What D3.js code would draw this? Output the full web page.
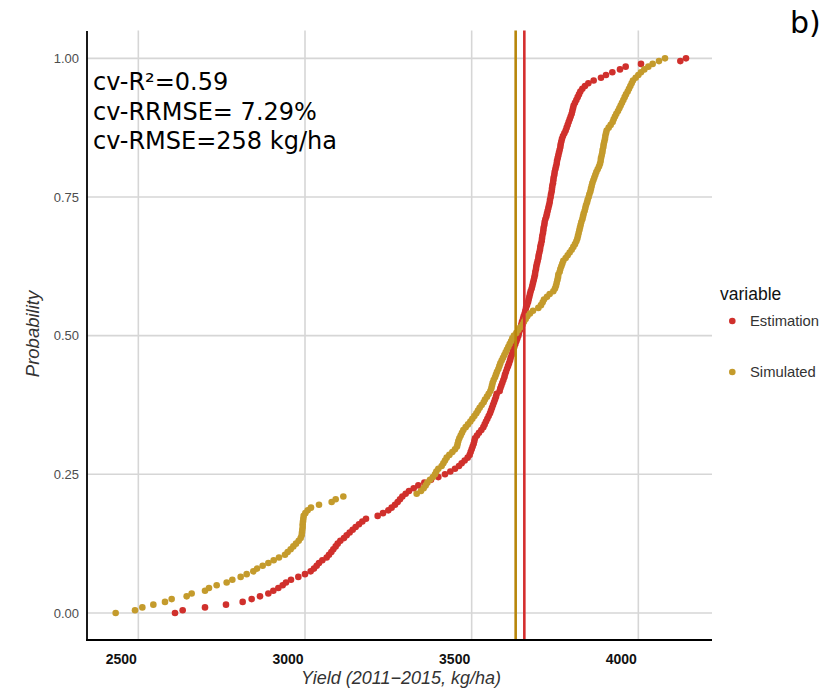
<!DOCTYPE html>
<html><head><meta charset="utf-8">
<script src="https://cdn.jsdelivr.net/npm/d3@7"></script>
<style>body{margin:0;background:#fff} svg{display:block}</style>
</head><body>
<script>
// Sorted yields (kg/ha)
const estimation = [2610,2633,2700,2763,2813,2840,2865,2890,2905,2920,
2933,2943,2958,2980,3000,3017,3027,3035,3042,3052,
3065,3072,3079,3085,3092,3098,3106,3117,3125,3134,
3143,3152,3162,3172,3183,3218,3234,3250,3260,3270,
3278,3285,3292,3302,3312,3326,3340,3358,3378,3400,
3420,3436,3450,3462,3470,3479,3488,3494,3497,3500,
3503,3506,3508,3510,3516,3522,3529,3535,3539,3543,
3547,3551,3555,3558,3561,3564,3567,3570,3573,3575,
3584,3586,3589,3592,3595,3598,3600,3603,3606,3609,
3612,3615,3617,3620,3623,3625,3628,3631,3634,3637,
3640,3642,3645,3647,3649,3651,3654,3656,3659,3661,
3663,3666,3669,3671,3673,3675,3677,3680,3682,3684,
3686,3688,3690,3691,3693,3694,3696,3698,3700,3701,
3703,3705,3706,3708,3710,3711,3712,3714,3715,3716,
3718,3719,3721,3724,3726,3728,3730,3732,3734,3735,
3737,3738,3740,3741,3742,3744,3745,3746,3748,3749,
3751,3753,3755,3756,3758,3760,3762,3764,3766,3767,
3769,3771,3774,3778,3782,3785,3788,3791,3794,3797,
3800,3802,3804,3806,3810,3814,3818,3822,3826,3832,
3840,3850,3866,3888,3903,3922,3945,3962,4008,4126,4143];
const simulated = [2432,2490,2512,2545,2580,2600,2645,2660,2700,2712,
2735,2765,2782,2807,2825,2845,2856,2873,2890,2906,
2922,2940,2948,2957,2965,2973,2981,2987,2990,2991,
2992,2993,2993,2994,2995,2996,3001,3008,3018,3042,
3080,3092,3115,3335,3348,3356,3362,3367,3375,3384,
3390,3394,3400,3410,3415,3420,3425,3433,3442,3450,
3456,3458,3460,3463,3467,3471,3475,3482,3489,3496,
3502,3508,3514,3519,3524,3530,3536,3540,3546,3551,
3556,3559,3561,3563,3566,3570,3573,3576,3580,3583,
3586,3590,3594,3598,3602,3606,3610,3614,3618,3622,
3627,3634,3640,3646,3653,3657,3662,3667,3675,3684,
3700,3708,3713,3717,3726,3734,3745,3750,3753,3755,
3757,3759,3760,3764,3766,3769,3772,3775,3782,3788,
3794,3800,3805,3810,3814,3817,3819,3821,3823,3825,
3827,3829,3832,3834,3836,3839,3841,3843,3846,3848,
3851,3853,3856,3858,3860,3862,3865,3868,3871,3874,
3878,3882,3885,3887,3888,3890,3892,3893,3895,3896,
3898,3900,3901,3903,3905,3911,3917,3923,3926,3930,
3934,3939,3943,3947,3951,3955,3959,3963,3968,3972,
3976,3980,3984,3992,4000,4008,4018,4030,4043,4062,4080];
const meanEstimation = 3658;
const meanSimulated = 3632;
const seriesNames = ["Estimation", "Simulated"];
const xTicks = [2500, 3000, 3500, 4000];
const yTicks = [0, 0.25, 0.5, 0.75, 1];
const statsLines = ["cv-R\u00B2=0.59", "cv-RRMSE= 7.29%", "cv-RMSE=258 kg/ha"];
const panelLabel = "b)";

const W = 833, H = 688;
const colors = {Estimation: "#d0302c", Simulated: "#c49b2c"};
const lineColors = {Estimation: "#d42e2e", Simulated: "#b8860b"};

const svg = d3.select("body").append("svg").attr("width", W).attr("height", H)
  .style("font-family", "'Liberation Sans', Arial, sans-serif");

const x = d3.scaleLinear().domain([2346, 4221]).range([87, 712]);
const y = d3.scaleLinear().domain([-0.05, 1.05]).range([640.7, 30.6]);

// grid
const grid = svg.append("g");
grid.selectAll("line.gy").data(yTicks).join("line")
  .attr("x1", 87).attr("x2", 712).attr("y1", d => y(d)).attr("y2", d => y(d))
  .attr("stroke", "#d6d6d6").attr("stroke-width", 1.6);
grid.selectAll("line.gx").data(xTicks).join("line")
  .attr("y1", 30.6).attr("y2", 640.7).attr("x1", d => x(d)).attr("x2", d => x(d))
  .attr("stroke", "#d6d6d6").attr("stroke-width", 1.6);

function ecdf(vals) {
  const n = vals.length;
  return vals.map((v, i) => ({x: v, p: i / (n - 1)}));
}
const series = [
  {name: "Estimation", pts: ecdf(estimation)},
  {name: "Simulated", pts: ecdf(simulated)}
];
series.forEach(s => {
  svg.append("g").selectAll("circle").data(s.pts).join("circle")
    .attr("cx", d => x(d.x)).attr("cy", d => y(d.p)).attr("r", 3.3)
    .attr("fill", colors[s.name]);
});

// mean lines
[["Simulated", meanSimulated], ["Estimation", meanEstimation]].forEach(([k, v]) => {
  svg.append("line").attr("x1", x(v)).attr("x2", x(v)).attr("y1", 30.6).attr("y2", 640.7)
    .attr("stroke", lineColors[k]).attr("stroke-width", 2.6);
});

// axes lines
svg.append("line").attr("x1", 87).attr("x2", 87).attr("y1", 31).attr("y2", 641)
  .attr("stroke", "#000").attr("stroke-width", 1.8);
svg.append("line").attr("x1", 86.1).attr("x2", 712).attr("y1", 640).attr("y2", 640)
  .attr("stroke", "#000").attr("stroke-width", 1.8);

// y tick labels
svg.append("g").selectAll("text").data(yTicks).join("text")
  .attr("x", 79).attr("y", d => y(d)).attr("dy", "0.36em").attr("text-anchor", "end")
  .attr("font-size", 13).attr("fill", "#4d4d4d").text(d => d3.format(".2f")(d));

// x tick labels
svg.append("g").selectAll("text").data(xTicks).join("text")
  .attr("x", d => x(d) - 17).attr("y", 664).attr("text-anchor", "middle")
  .attr("font-size", 14).attr("font-weight", "bold").attr("fill", "#111").text(d => d);

// axis titles
svg.append("text").attr("x", 401).attr("y", 684).attr("text-anchor", "middle")
  .attr("font-size", 18).attr("font-style", "italic").attr("fill", "#333")
  .text("Yield (2011\u22122015, kg/ha)");
svg.append("text").attr("transform", "translate(39,334) rotate(-90)").attr("text-anchor", "middle")
  .attr("font-size", 18.5).attr("font-style", "italic").attr("fill", "#333").text("Probability");

// stats annotation
svg.append("g").selectAll("text").data(statsLines).join("text")
  .attr("x", 93).attr("y", (d, i) => 90 + i * 29.5)
  .attr("font-family", "'DejaVu Sans', sans-serif").attr("font-size", 24).attr("fill", "#000")
  .text(d => d);

// panel label
svg.append("text").attr("x", 790).attr("y", 33)
  .attr("font-family", "'DejaVu Sans', sans-serif").attr("font-size", 30).attr("fill", "#000")
  .text(panelLabel);

// legend
const lg = svg.append("g");
lg.append("text").attr("x", 720).attr("y", 300).attr("font-size", 17.5).attr("fill", "#111").text("variable");
seriesNames.forEach((nm, i) => {
  const cy = [321, 372][i];
  lg.append("circle").attr("cx", 732.3).attr("cy", cy).attr("r", 3.3).attr("fill", colors[nm]);
  lg.append("text").attr("x", 750).attr("y", cy).attr("dy", "0.36em")
    .attr("font-size", 14.8).attr("fill", "#333").text(nm);
});
</script>
</body></html>
